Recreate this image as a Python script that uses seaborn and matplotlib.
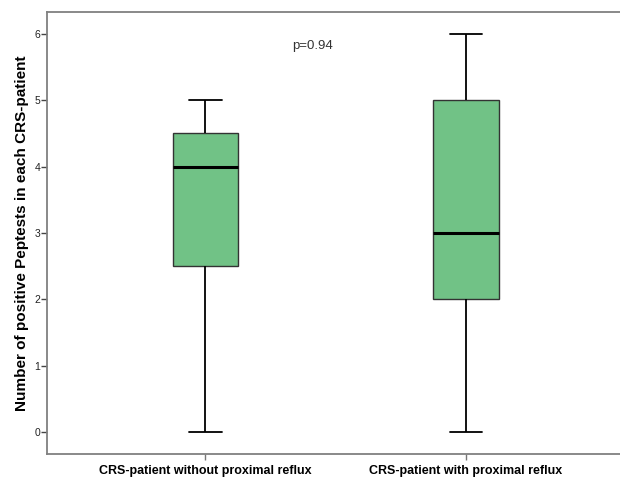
import pandas as pd
import matplotlib.pyplot as plt
import seaborn as sns

# Datos (conteos de Peptests positivos por paciente)
groups = ["CRS-patient without proximal reflux", "CRS-patient with proximal reflux"]
without_reflux = [0, 2, 3, 4, 4, 5, 5]
with_reflux = [0, 2, 2, 3, 5, 5, 6]
y_ticks = [0, 1, 2, 3, 4, 5, 6]
p_text = "p=0.94"

df = pd.DataFrame({
    "group": [groups[0]] * len(without_reflux) + [groups[1]] * len(with_reflux),
    "value": without_reflux + with_reflux,
})

sns.set_style("white")
plt.rcParams['font.family'] = ['Liberation Sans', 'DejaVu Sans']

fig = plt.figure(figsize=(6.2, 4.8), dpi=100)
ax = fig.add_axes([0.0758, 0.0535, 0.9315, 0.9215])

sns.boxplot(data=df, x="group", y="value", order=groups, color="#71c286",
            width=0.25, linecolor="black", linewidth=1.3, saturation=1,
            medianprops={"linewidth": 2.2, "color": "black"},
            boxprops={"edgecolor": "#333333", "linewidth": 1.0},
            ax=ax)

ax.set_xlim(-0.608, 1.608)
ax.set_ylim(-0.335, 6.33)
ax.set_yticks(y_ticks)
ax.set_yticklabels([str(t) for t in y_ticks], fontsize=7.5, color="#222222")
ax.tick_params(axis="y", left=True, direction="out", length=4, width=1, color="#444444", pad=1)
ax.tick_params(axis="x", bottom=True, direction="out", length=4, width=1, color="#777777", pad=4)
for lab in ax.get_xticklabels():
    lab.set_fontweight("bold")
    lab.set_fontsize(9)
    lab.set_color("black")

ax.set_xlabel("")
ax.set_ylabel("Number of positive Peptests in each CRS-patient", fontsize=11,
              fontweight="bold", labelpad=4, color="black")

for side in ["left", "top", "bottom", "right"]:
    ax.spines[side].set_color("#808080")
    ax.spines[side].set_linewidth(1.3)

ax.text(0.41, 5.82, p_text, ha="center", va="center", fontsize=9.5, color="#333333")

plt.savefig("out.png", dpi=100)
plt.close()
